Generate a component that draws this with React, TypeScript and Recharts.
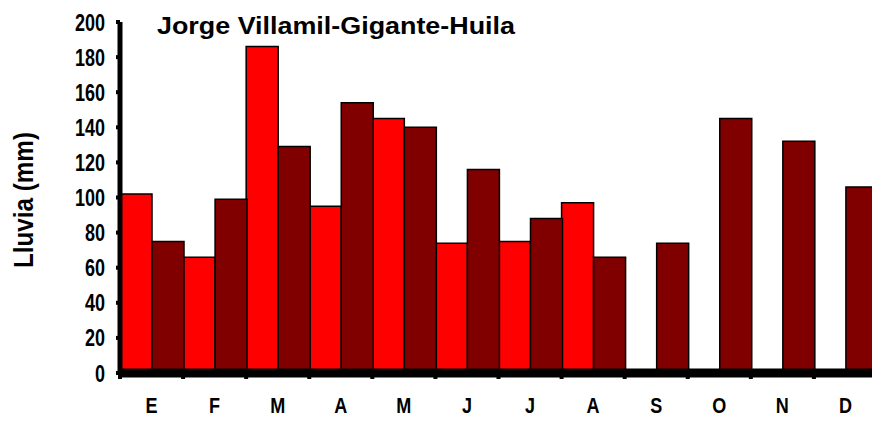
import { Bar, BarChart, XAxis, YAxis } from "recharts";

const months = ["E", "F", "M", "A", "M", "J", "J", "A", "S", "O", "N", "D"];
const serieA = [102, 66, 186, 95, 145, 74, 75, 97, null, null, null, null];
const serieB = [75, 99, 129, 154, 140, 116, 88, 66, 74, 145, 132, 106];
const yTicks = [0, 20, 40, 60, 80, 100, 120, 140, 160, 180, 200];

const data = months.map((m, i) => ({
  key: i,
  mes: m,
  a: serieA[i],
  b: serieB[i],
}));

const font = "'Liberation Sans', Arial, sans-serif";

const MonthTick = (props: any) => {
  const { x, y, payload } = props;
  const half = payload.offset || 31.5;
  return (
    <g>
      <rect x={x - half - 2} y={y - 6} width={4} height={4} fill="#000" />
      <text
        transform={`translate(${x},${y + 32}) scale(0.82,1)`}
        textAnchor="middle"
        fontFamily={font}
        fontWeight="bold"
        fontSize={22}
        fill="#000"
      >
        {data[payload.value]?.mes}
      </text>
    </g>
  );
};

const ValueTick = (props: any) => {
  const { y, payload } = props;
  return (
    <text
      transform={`translate(105,${y + 8.5}) scale(0.75,1)`}
      textAnchor="end"
      fontFamily={font}
      fontWeight="bold"
      fontSize={24}
      fill="#000"
    >
      {payload.value}
    </text>
  );
};

const App = () => {
  return (
    <div
      style={{
        position: "absolute",
        left: 0,
        top: 0,
        width: 872,
        height: 422,
        overflow: "hidden",
        background: "#fff",
      }}
    >
      <BarChart
        width={877}
        height={422}
        data={data}
        margin={{ top: 22, right: 0, bottom: 9, left: 0 }}
        barCategoryGap={0}
        barGap={0}
      >
        <XAxis
          dataKey="key"
          height={40}
          axisLine={{ stroke: "#000", strokeWidth: 9 }}
          tickLine={false}
          tick={<MonthTick />}
          interval={0}
        />
        <YAxis
          width={120}
          domain={[0, 200]}
          ticks={yTicks}
          interval={0}
          axisLine={{ stroke: "#000", strokeWidth: 5 }}
          tickLine={{ stroke: "#000", strokeWidth: 4 }}
          tickSize={4}
          tick={<ValueTick />}
        />
        <Bar
          dataKey="a"
          fill="#ff0000"
          stroke="#000"
          strokeWidth={1.5}
          isAnimationActive={false}
        />
        <Bar
          dataKey="b"
          fill="#800000"
          stroke="#000"
          strokeWidth={1.5}
          isAnimationActive={false}
        />
        <text
          transform="translate(33,200) rotate(-90)"
          textAnchor="middle"
          fontFamily={font}
          fontWeight="bold"
          fontSize={27}
          textLength={136}
          lengthAdjust="spacingAndGlyphs"
          fill="#000"
        >
          Lluvia (mm)
        </text>
        <text
          x={157}
          y={34}
          fontFamily={font}
          fontWeight="bold"
          fontSize={24}
          textLength={358}
          lengthAdjust="spacingAndGlyphs"
          fill="#000"
        >
          Jorge Villamil-Gigante-Huila
        </text>
      </BarChart>
    </div>
  );
};

export default App;
